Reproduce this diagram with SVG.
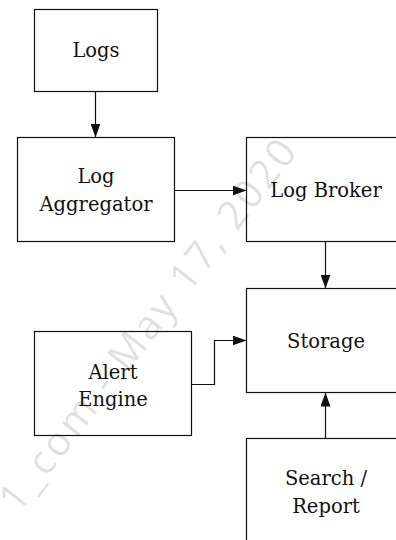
<svg xmlns="http://www.w3.org/2000/svg" width="396" height="540" viewBox="0 0 396 540">
  <defs>
    <style>
      .box { fill: none; stroke: #111; stroke-width: 1.2; }
      .lbl { font-family: "DejaVu Serif", "Liberation Serif", serif; font-size: 19.5px; fill: #111; text-anchor: middle; }
      .wire { fill: none; stroke: #111; stroke-width: 1.2; marker-end: url(#head); }
      .stamp { font-family: "Open Sans", "Liberation Sans", sans-serif; font-size: 40px; fill: #000; fill-opacity: 0.13; letter-spacing: 3px; text-anchor: end; }
    </style>
    <marker id="head" markerUnits="userSpaceOnUse" markerWidth="14" markerHeight="10" refX="14" refY="5" orient="auto">
      <path d="M0 0 L14 5 L0 10 Z" fill="#111"/>
    </marker>
  </defs>

  <rect width="396" height="540" fill="#fff"/>

  <!-- faint diagonal stamp -->
  <text class="stamp" transform="translate(300 150) rotate(-52.3)">1_com - May 17, 2020</text>

  <g id="logs">
    <rect class="box" x="34.5" y="9.5" width="123" height="82"/>
    <text class="lbl" x="96" y="57">Logs</text>
  </g>

  <g id="log-aggregator">
    <rect class="box" x="17.5" y="137.5" width="157" height="104"/>
    <text class="lbl" x="96" y="182.5">Log</text>
    <text class="lbl" x="96" y="210.5">Aggregator</text>
  </g>

  <g id="log-broker">
    <rect class="box" x="246.5" y="137.5" width="160" height="104"/>
    <text class="lbl" x="326" y="196.5">Log Broker</text>
  </g>

  <g id="storage">
    <rect class="box" x="246.5" y="288.5" width="160" height="104"/>
    <text class="lbl" x="326" y="347.5">Storage</text>
  </g>

  <g id="alert-engine">
    <rect class="box" x="34.5" y="331.5" width="157" height="104"/>
    <text class="lbl" x="113" y="378.5">Alert</text>
    <text class="lbl" x="113" y="406">Engine</text>
  </g>

  <g id="search-report">
    <rect class="box" x="246.5" y="438.5" width="160" height="110"/>
    <text class="lbl" x="326" y="485">Search /</text>
    <text class="lbl" x="326" y="512.5">Report</text>
  </g>

  <g id="connectors">
    <path class="wire" d="M95.5 91.5 V137.5"/>
    <path class="wire" d="M174.5 190.5 H246.5"/>
    <path class="wire" d="M325.5 241.5 V288.5"/>
    <path class="wire" d="M191.5 384.5 H214.5 V340.5 H246.5"/>
    <path class="wire" d="M325.5 438.5 V392.5"/>
  </g>
</svg>
